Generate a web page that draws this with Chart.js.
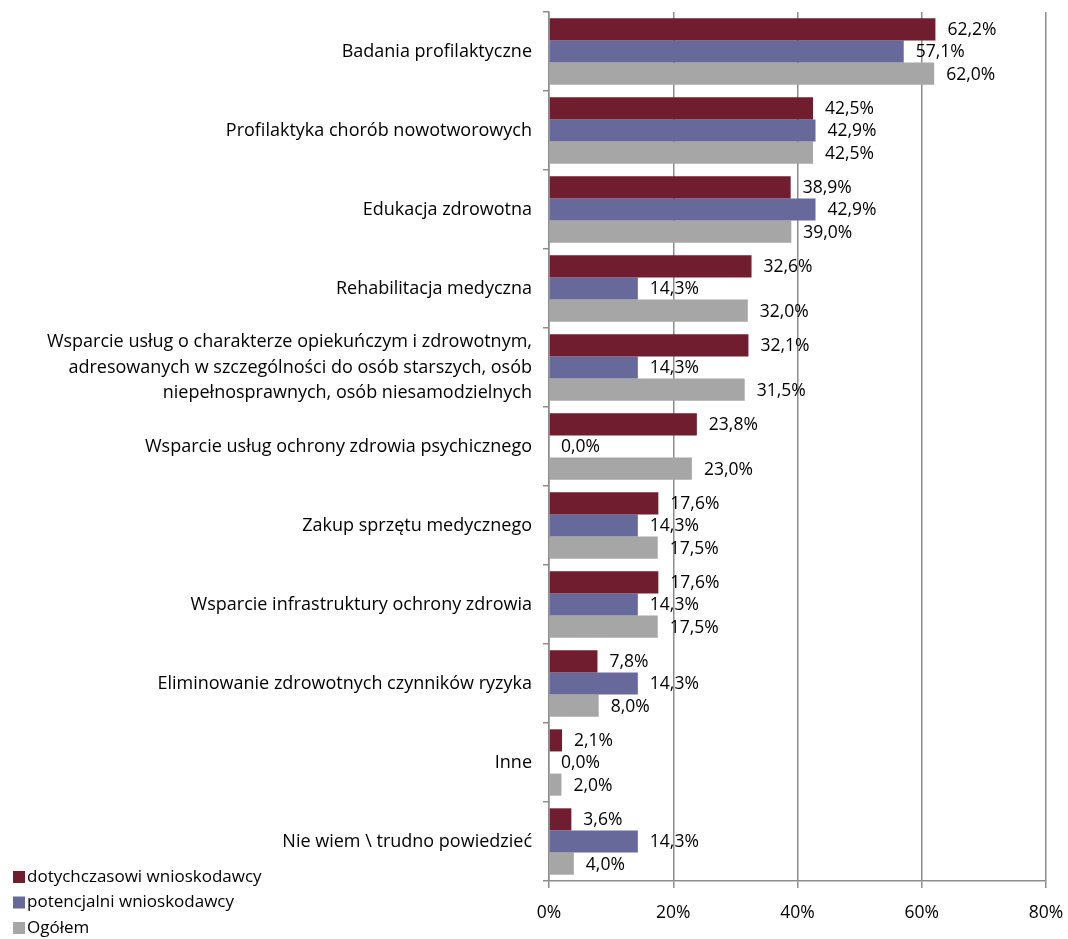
<!DOCTYPE html>
<html>
<head>
<meta charset="utf-8">
<script src="https://cdn.jsdelivr.net/npm/chart.js@4"></script>
<style>
html,body{margin:0;padding:0;background:#fff;}
#wrap{width:1068px;height:939px;position:relative;}
</style>
</head>
<body>
<div id="wrap"><canvas id="c" width="1068" height="939"></canvas></div>
<script>
const categories = [
  "Badania profilaktyczne",
  "Profilaktyka chorób nowotworowych",
  "Edukacja zdrowotna",
  "Rehabilitacja medyczna",
  ["Wsparcie usług o charakterze opiekuńczym i zdrowotnym,", "adresowanych w szczególności do osób starszych, osób", "niepełnosprawnych, osób niesamodzielnych"],
  "Wsparcie usług ochrony zdrowia psychicznego",
  "Zakup sprzętu medycznego",
  "Wsparcie infrastruktury ochrony zdrowia",
  "Eliminowanie zdrowotnych czynników ryzyka",
  "Inne",
  "Nie wiem \\ trudno powiedzieć"
];
const seriesNames = ["dotychczasowi wnioskodawcy", "potencjalni wnioskodawcy", "Ogółem"];
const dotychczasowi = [62.2, 42.5, 38.9, 32.6, 32.1, 23.8, 17.6, 17.6, 7.8, 2.1, 3.6];
const potencjalni = [57.1, 42.9, 42.9, 14.3, 14.3, 0.0, 14.3, 14.3, 14.3, 0.0, 14.3];
const ogolem = [62.0, 42.5, 39.0, 32.0, 31.5, 23.0, 17.5, 17.5, 8.0, 2.0, 4.0];
const xTicks = [0, 20, 40, 60, 80];

const colors = ["#701E2F", "#67699A", "#A6A6A6"];
const FONT = "'Open Sans', 'Noto Sans', sans-serif";

const valueLabels = {
  id: 'valueLabels',
  afterDatasetsDraw(chart) {
    const ctx = chart.ctx;
    ctx.save();
    ctx.font = "17.5px " + FONT;
    ctx.fillStyle = "#000";
    ctx.textBaseline = "middle";
    ctx.textAlign = "left";
    chart.data.datasets.forEach((ds, di) => {
      const meta = chart.getDatasetMeta(di);
      meta.data.forEach((el, i) => {
        const v = ds.data[i];
        const txt = v.toFixed(1).replace('.', ',') + '%';
        ctx.fillText(txt, el.x + 12, el.y + 1);
      });
    });
    ctx.restore();
  }
};

const customLegend = {
  id: 'customLegend',
  afterDraw(chart) {
    const ctx = chart.ctx;
    ctx.save();
    ctx.font = "17px " + FONT;
    ctx.textBaseline = "middle";
    ctx.textAlign = "left";
    chart.data.datasets.forEach((ds, i) => {
      const y = 877 + i * 25.5;
      ctx.fillStyle = ds.backgroundColor;
      ctx.fillRect(13, y - 6, 12, 12);
      ctx.fillStyle = "#000";
      ctx.fillText(ds.label, 27, y);
    });
    ctx.restore();
  }
};

new Chart(document.getElementById('c'), {
  type: 'bar',
  data: {
    labels: categories,
    datasets: [
      { label: seriesNames[0], data: dotychczasowi, backgroundColor: colors[0] },
      { label: seriesNames[1], data: potencjalni, backgroundColor: colors[1] },
      { label: seriesNames[2], data: ogolem, backgroundColor: colors[2] }
    ]
  },
  options: {
    indexAxis: 'y',
    responsive: false,
    animation: false,
    devicePixelRatio: 1,
    layout: { padding: { top: 12, right: 22, bottom: 0, left: 0 } },
    datasets: { bar: { categoryPercentage: 0.84, barPercentage: 1.0 } },
    plugins: { legend: { display: false }, tooltip: { enabled: false } },
    scales: {
      x: {
        min: 0, max: 80,
        afterBuildTicks(s) { s.ticks = xTicks.map(v => ({ value: v })); },
        afterFit(s) { s.height = 58; s.paddingLeft = 0; s.paddingRight = 0; },
        ticks: {
          callback: v => v + '%',
          font: { family: FONT, size: 17.5 },
          color: '#000',
          padding: 15,
          maxRotation: 0
        },
        grid: { color: '#8C8C8C', lineWidth: 1.5, tickLength: 7, drawTicks: true },
        border: { color: '#8C8C8C', width: 1.5 }
      },
      y: {
        afterFit(s) { s.width = 549; s.paddingTop = 0; s.paddingBottom = 0; },
        ticks: {
          font: { family: FONT, size: 18, lineHeight: 1.4 },
          color: '#000',
          padding: 11,
          autoSkip: false
        },
        grid: { drawOnChartArea: false, color: '#8C8C8C', lineWidth: 1.5, tickLength: 6 },
        border: { color: '#8C8C8C', width: 1.5 }
      }
    }
  },
  plugins: [valueLabels, customLegend]
});
</script>
</body>
</html>
